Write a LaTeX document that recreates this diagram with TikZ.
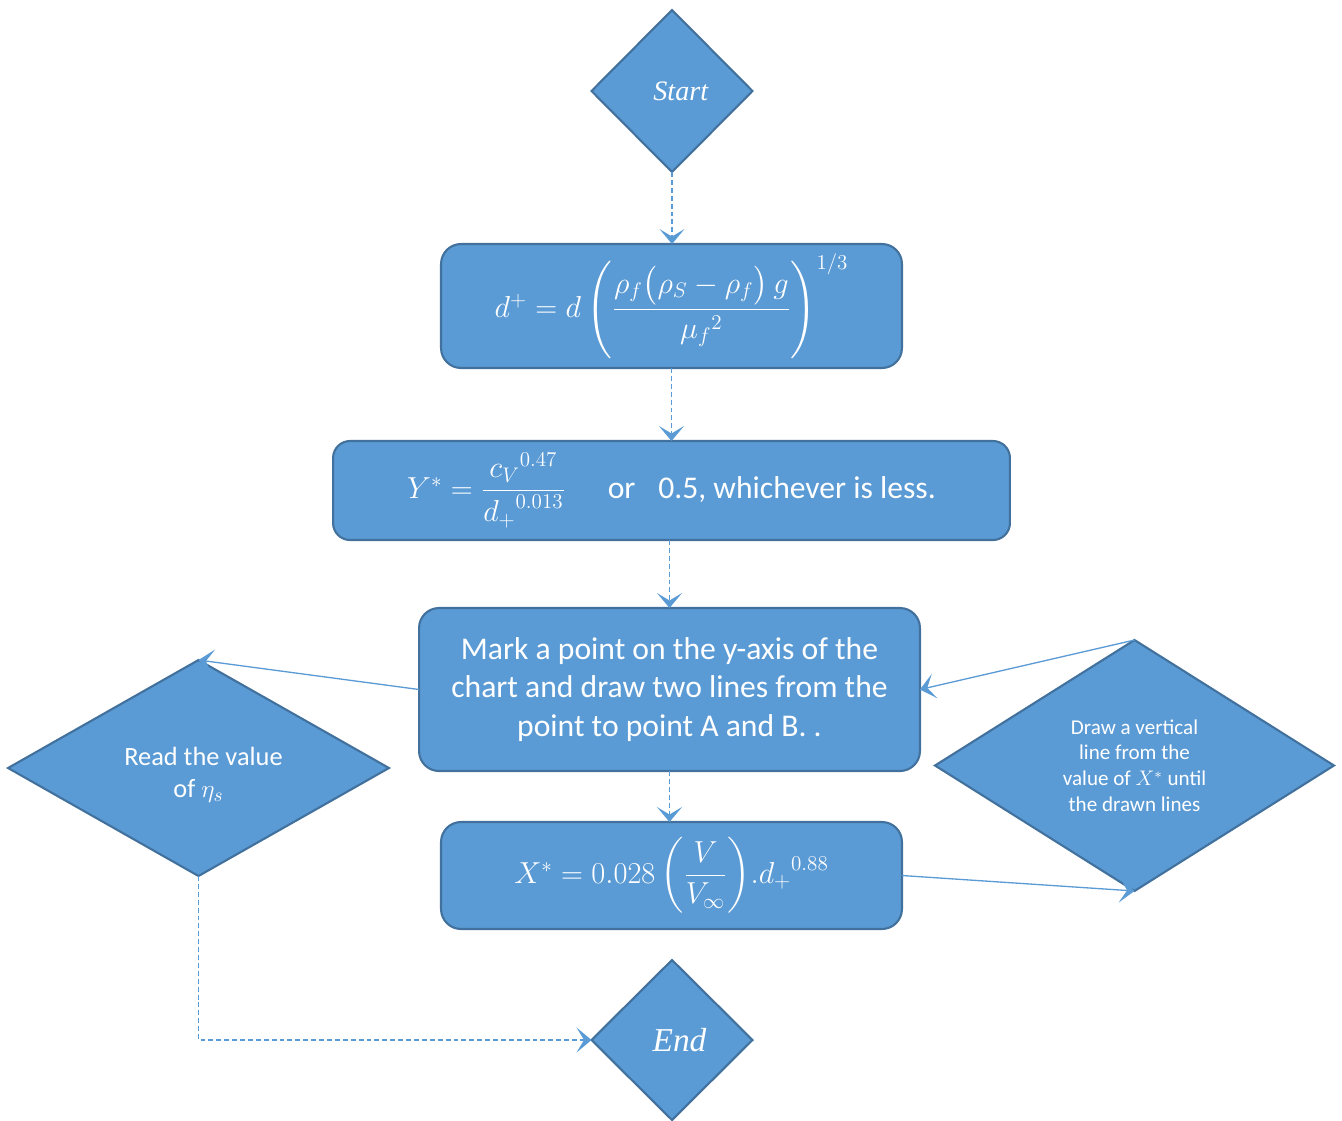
\documentclass[tikz,border=0pt]{standalone}
\usepackage{amsmath,amssymb}
\usepackage{fontspec}
\setmainfont{Carlito}
\newfontfamily\termfont{Liberation Serif}
\usepackage{tikz}
\usetikzlibrary{shapes.geometric, arrows.meta, positioning}
\definecolor{chartfill}{HTML}{5B9BD5}
\definecolor{chartline}{HTML}{41719C}

\begin{document}
\begin{tikzpicture}[
    x=0.02cm, y=-0.02cm,
    terminal/.style={diamond, draw=chartline, fill=chartfill, line width=1.2pt, text=white, inner sep=0pt, outer sep=0pt, minimum width=3.22cm, minimum height=3.24cm},
    process/.style={rectangle, rounded corners=0.4cm, draw=chartline, fill=chartfill, line width=1.2pt, text=white, align=center, outer sep=0pt},
    decision/.style={diamond, draw=chartline, fill=chartfill, line width=1.2pt, text=white, align=center, inner sep=0pt, outer sep=0pt},
    arrow/.style={-{Stealth[length=3mm, width=5mm, inset=1.5mm]}, draw=chartfill, line width=0.75pt},
    dasharrow/.style={arrow, dash pattern=on 2.8pt off 1.7pt},
]
    \useasboundingbox (0,0) rectangle (1342,1120);

    \node[terminal, font=\termfont\itshape\fontsize{16}{19}\selectfont] (start) at (672,91) {\hspace{0.35cm}Start};
    \node[process, minimum width=9.22cm, minimum height=2.48cm, font=\fontsize{18.5}{22}\selectfont] (dplus) at (671.5,306)
        {$d^+ = d\left(\dfrac{\rho_f\bigl(\rho_S-\rho_f\bigr)\,g}{{\mu_f}^2}\right)^{1/3}$};
    \node[process, minimum width=13.54cm, minimum height=1.98cm, rounded corners=0.34cm, font=\fontsize{18}{22}\selectfont] (ystar) at (671.5,490.5)
        {$Y^* = \dfrac{{c_V}^{0.47}}{{d_+}^{0.013}}$\hspace{24pt}or\hspace{13pt}0.5, whichever is less.};
    \node[process, minimum width=10.02cm, minimum height=3.26cm, font=\fontsize{18}{22}\selectfont] (mark) at (669.5,689.5)
        {Mark a point on the y-axis of the\\chart and draw two lines from the\\point to point A and B. .};
    \node[process, minimum width=9.22cm, minimum height=2.14cm, font=\fontsize{18}{22}\selectfont] (xstar) at (671.5,875.5)
        {$X^* = 0.028\left(\dfrac{V}{V_\infty}\right)\!.{d_+}^{0.88}$};
    \node[terminal, minimum height=3.2cm, font=\termfont\itshape\fontsize{19}{22}\selectfont] (end) at (672,1040) {\hspace{0.3cm}End};

    \node[decision, minimum width=7.62cm, minimum height=4.32cm, aspect=1.76, font=\fontsize{15}{18.5}\selectfont] (readeta) at (198.5,768)
        {\rule{0pt}{18pt}\hspace{0.2cm}Read the value\\of $\eta_s$};
    \node[decision, minimum width=7.98cm, minimum height=5.02cm, aspect=1.59, font=\fontsize{12}{14.7}\selectfont] (vline) at (1134.5,765.5)
        {Draw a vertical\\line from the\\value of $X^*$ until\\the drawn lines};

    \draw[dasharrow] (start.south) -- (start.south |- dplus.north);
    \draw[dasharrow] (dplus.south) -- (dplus.south |- ystar.north);
    \draw[dasharrow] (ystar.south -| mark.north) -- (mark.north);
    \draw[dasharrow] (mark.south) -- (mark.south |- xstar.north);
    \draw[arrow] (mark.west) -- (readeta.north);
    \draw[arrow] (vline.north) -- (mark.east);
    \draw[arrow] (xstar.east) -- (vline.south);
    \draw[dasharrow] (readeta.south) |- (end.west);
\end{tikzpicture}
\end{document}
